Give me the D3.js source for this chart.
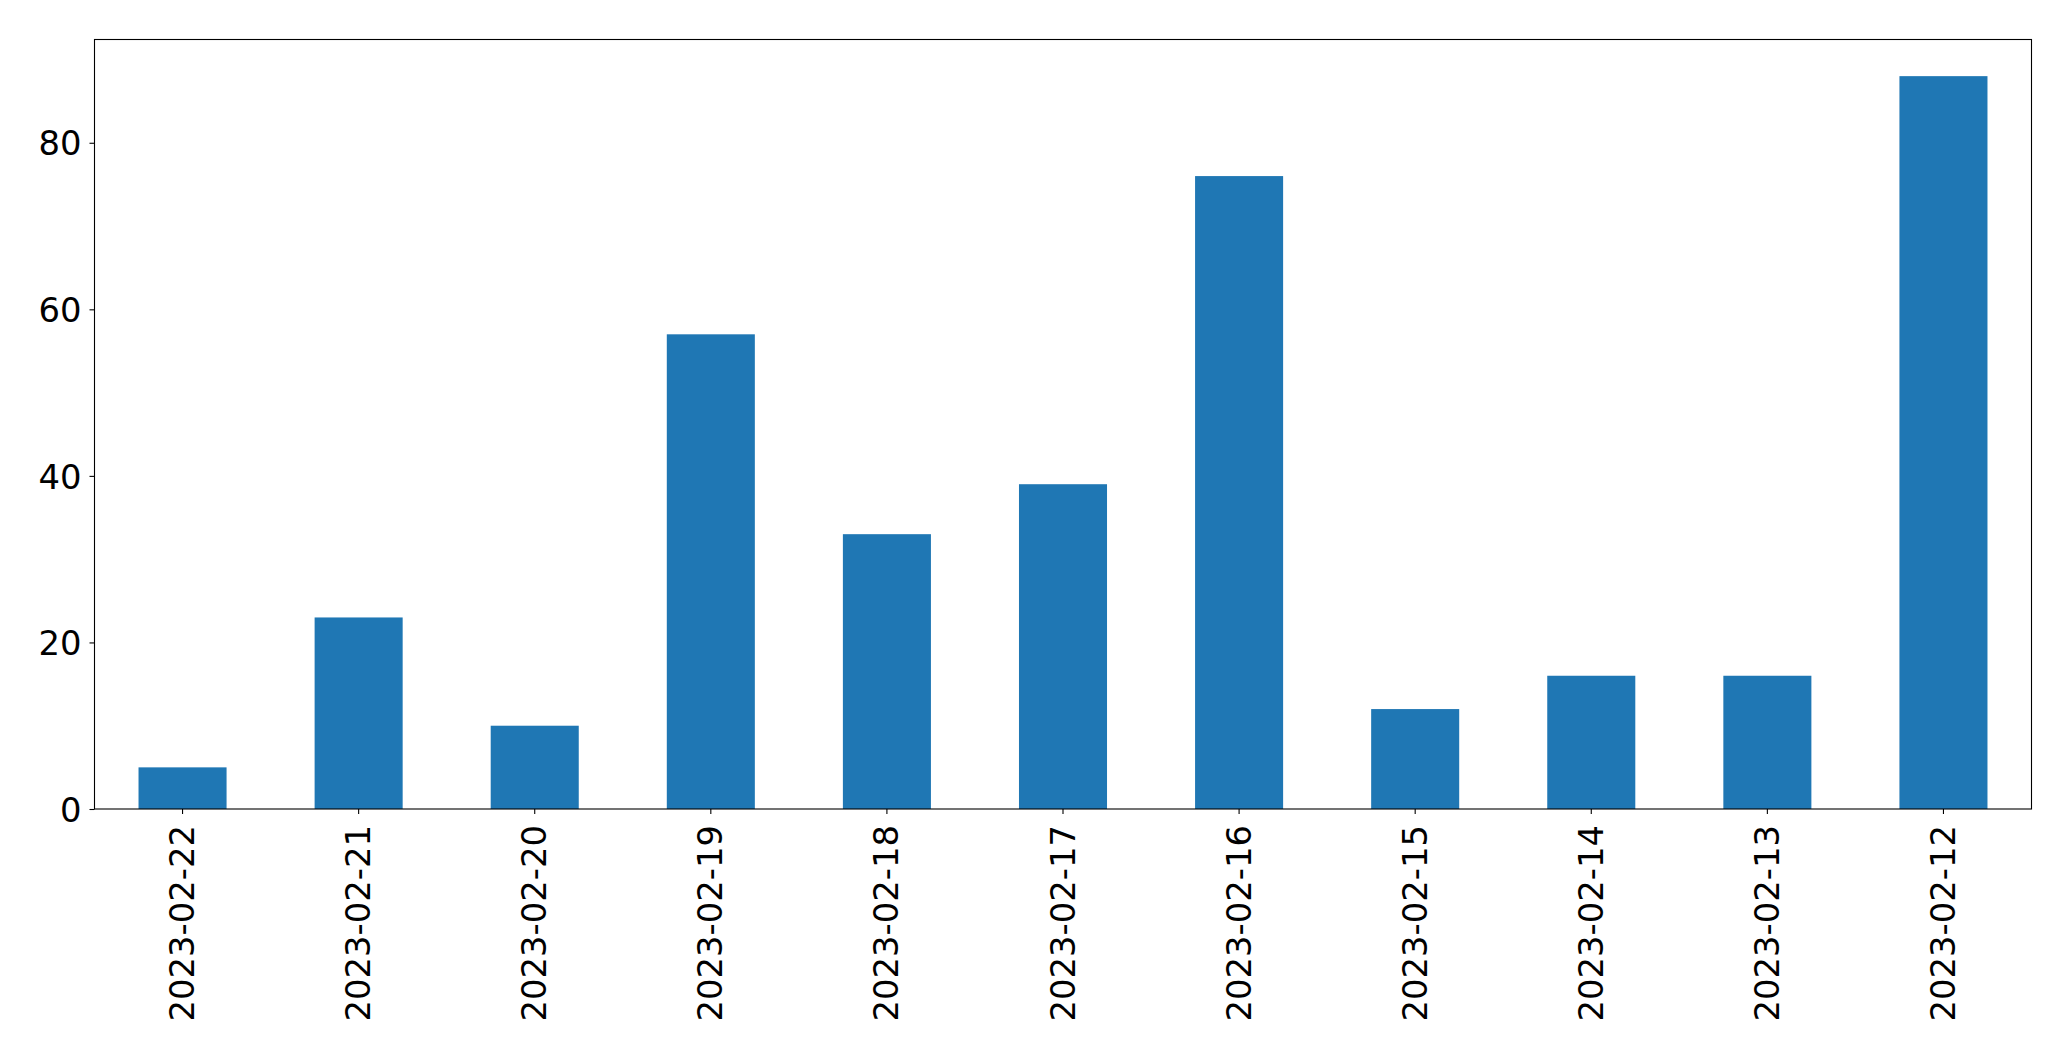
<!DOCTYPE html>
<html>
<head>
<meta charset="utf-8">
<script src="https://cdn.jsdelivr.net/npm/d3@7"></script>
<style>
  html, body { margin: 0; padding: 0; background: #fff; }
  svg { display: block; }
  text { font-family: "DejaVu Sans", sans-serif; fill: #000; }
</style>
</head>
<body>
<script>
const categories = ["2023-02-22","2023-02-21","2023-02-20","2023-02-19","2023-02-18","2023-02-17","2023-02-16","2023-02-15","2023-02-14","2023-02-13","2023-02-12"];
const values = [5, 23, 10, 57, 33, 39, 76, 12, 16, 16, 88];
const yTicks = [0, 20, 40, 60, 80];

(function () {
const W = 2071, H = 1061;
const mLeft = 94.5, mRight = 2031.5, mTop = 39.5, mBottom = 809;
const fontSize = 33.8;

const svg = d3.select("body").append("svg").attr("width", W).attr("height", H);

const x = d3.scaleBand().domain(categories).range([mLeft, mRight]).paddingInner(0.5).paddingOuter(0.25);
const y = d3.scaleLinear().domain([0, d3.max(values) * 1.05]).range([mBottom, mTop]);

svg.append("g").selectAll("rect").data(values).join("rect")
  .attr("x", (d, i) => x(categories[i]))
  .attr("width", x.bandwidth())
  .attr("y", d => y(d))
  .attr("height", d => y(0) - y(d))
  .attr("fill", "#1f77b4");

svg.append("rect").attr("x", mLeft).attr("y", mTop).attr("width", mRight - mLeft).attr("height", mBottom - mTop)
  .attr("fill", "none").attr("stroke", "#000").attr("stroke-width", 1.1);

const yAxis = svg.append("g").attr("transform", `translate(${mLeft},0)`)
  .call(d3.axisLeft(y).tickValues(yTicks).tickSize(5).tickPadding(8).tickFormat(d3.format("d")));
yAxis.select(".domain").remove();
yAxis.selectAll(".tick line").attr("stroke", "#000").attr("stroke-width", 1.1);
yAxis.selectAll(".tick text").style("font-size", fontSize + "px").attr("font-family", "DejaVu Sans").attr("dy", "0.36em");

const xAxis = svg.append("g").attr("transform", `translate(0,${mBottom})`)
  .call(d3.axisBottom(x).tickSize(5).tickPadding(0));
xAxis.select(".domain").remove();
xAxis.selectAll(".tick line").attr("stroke", "#000").attr("stroke-width", 1.1);
xAxis.selectAll(".tick text")
  .style("font-size", fontSize + "px")
  .attr("font-family", "DejaVu Sans")
  .attr("text-anchor", "end")
  .attr("dy", null)
  .attr("y", 0)
  .attr("transform", "translate(0,16) rotate(-90)")
  .attr("dominant-baseline", "central");
})();
</script>
</body>
</html>
